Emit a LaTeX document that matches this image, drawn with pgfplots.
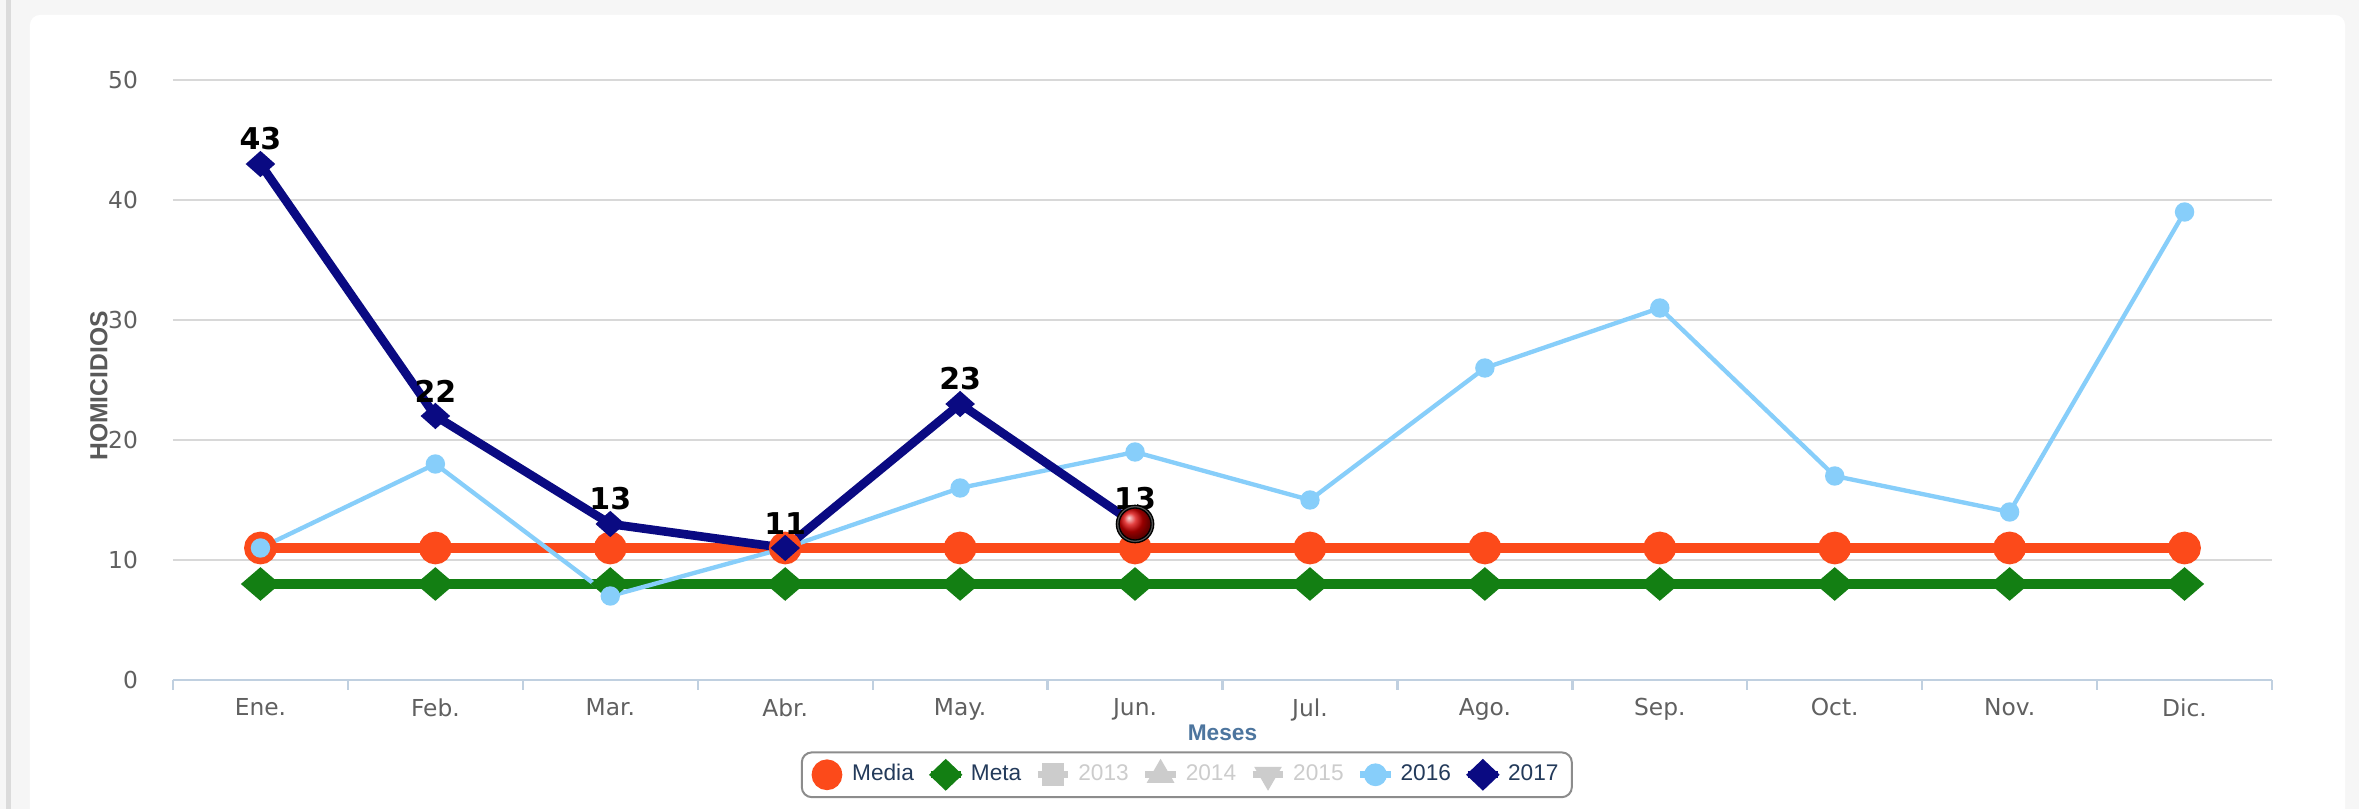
\documentclass[border=0pt]{standalone}
\usepackage{fontspec}
\setmainfont{DejaVu Sans}
\newfontfamily\arialf{Liberation Sans}
\usepackage{pgfplots}
\pgfplotsset{compat=1.18}

\definecolor{media}{HTML}{FC4A1A}
\definecolor{meta}{HTML}{137F13}
\definecolor{c2016}{HTML}{87CEFA}
\definecolor{c2017}{HTML}{0A0A82}
\definecolor{gridc}{HTML}{D8D8D8}
\definecolor{axisc}{HTML}{C0D0E0}
\definecolor{tickc}{HTML}{606060}
\definecolor{legc}{HTML}{233A5A}
\definecolor{mesc}{HTML}{4D759E}
\definecolor{hidc}{HTML}{CCCCCC}
\definecolor{bgc}{HTML}{F6F6F6}

\begin{document}
\begin{tikzpicture}
% background (1px = 0.3pt, axis box lower-left at origin)
\path[use as bounding box] (-51.9pt,-38.7pt) rectangle (655.8pt,204pt);
\fill[bgc] (-51.9pt,-38.7pt) rectangle (655.8pt,204pt);
\fill[white,rounded corners=3pt] (-42.9pt,-45pt) rectangle (651.6pt,199.5pt);
\fill[black!14] (-50.1pt,-38.7pt) rectangle (-48.6pt,204pt);

\begin{axis}[
  scale only axis, width=629.7pt, height=180pt,
  at={(0,0)}, anchor=south west,
  xmin=-0.5, xmax=11.5, ymin=0, ymax=50,
  xtick={-0.5,0.5,...,11.5},
  x tick label as interval,
  xticklabels={Ene.,Feb.,Mar.,Abr.,May.,Jun.,Jul.,Ago.,Sep.,Oct.,Nov.,Dic.},
  ytick={0,10,...,50},
  /pgf/number format/assume math mode=true,
  axis x line*=bottom, axis y line*=left,
  y axis line style={draw=none},
  x axis line style={axisc, line width=0.7pt},
  xtick style={axisc, line width=0.7pt},
  ytick style={draw=none},
  tick align=outside, major tick length=3pt,
  ymajorgrids, grid style={gridc, line width=0.6pt},
  tick label style={font=\fontsize{7}{8}\selectfont, text=tickc},
  yticklabel style={anchor=east, xshift=-4pt},
  xticklabel style={yshift=1pt},
  ylabel={HOMICIDIOS},
  ylabel style={at={(axis description cs:-0.0353,0.49)}, anchor=center,
    font=\arialf\bfseries\fontsize{7.4}{8}\selectfont, text=black!65},
  xlabel={Meses},
  xlabel style={at={(axis description cs:0.5,-0.088)}, anchor=center,
    font=\arialf\bfseries\fontsize{6.8}{8}\selectfont, text=mesc},
  legend style={at={(axis description cs:0.483,-0.158)}, anchor=center,
    legend columns=7, draw=black!45, line width=0.6pt, rounded corners=3pt,
    font=\arialf\fontsize{6.8}{8}\selectfont, text=legc,
    inner xsep=2pt, inner ysep=1.5pt,
    /tikz/every even column/.append style={column sep=2pt}},
  legend image code/.code={\draw[mark repeat=2,mark phase=2]
    plot coordinates {(0cm,0cm) (0.16cm,0cm) (0.32cm,0cm)};},
  clip=false,
]
% Media
\addplot[media, line width=3pt, mark=*, mark size=3.4pt, forget plot]
  coordinates {(0,11) (1,11) (2,11) (3,11) (4,11) (5,11) (6,11) (7,11) (8,11) (9,11) (10,11) (11,11)};
% Meta
\addplot[meta, line width=2.8pt, mark=diamond*, mark size=3.2pt, mark options={xscale=1.55}, forget plot]
  coordinates {(0,8) (1,8) (2,8) (3,8) (4,8) (5,8) (6,8) (7,8) (8,8) (9,8) (10,8) (11,8)};
% 2016
\addplot[c2016, line width=1.3pt, mark=*, mark size=2.25pt, forget plot]
  coordinates {(0,11) (1,18) (2,7) (3,11) (4,16) (5,19) (6,15) (7,26) (8,31) (9,17) (10,14) (11,39)};
% 2017
\addplot[c2017, line width=2.6pt, mark=diamond*, mark size=2.2pt, mark options={xscale=1.5}, forget plot,
  nodes near coords, every node near coord/.append style={font=\bfseries\fontsize{9}{10}\selectfont,
    text=black, anchor=south, yshift=-0.5pt}]
  coordinates {(0,43) (1,22) (2,13) (3,11) (4,23) (5,13)};
% highlighted point
\addplot[only marks, mark=*, mark size=5.6pt, mark options={fill=black!65, draw=none}, forget plot]
  coordinates {(5,13)};
\addplot[only marks, mark=ball, ball color=red!85!black, mark size=4.8pt, forget plot]
  coordinates {(5,13)};

\addlegendimage{media, line width=2pt, mark=*, mark size=3.6pt}
\addlegendentry{Media}
\addlegendimage{meta, line width=2pt, mark=diamond*, mark size=3.4pt, mark options={xscale=1.4}}
\addlegendentry{Meta}
\addlegendimage{hidc, line width=2pt, mark=square*, mark size=2.4pt}
\addlegendentry{\textcolor{hidc}{2013}}
\addlegendimage{hidc, line width=2pt, mark=triangle*, mark size=2.8pt}
\addlegendentry{\textcolor{hidc}{2014}}
\addlegendimage{hidc, line width=2pt, mark=triangle*, mark size=2.8pt, mark options={rotate=180}}
\addlegendentry{\textcolor{hidc}{2015}}
\addlegendimage{c2016, line width=2pt, mark=*, mark size=2.4pt}
\addlegendentry{2016}
\addlegendimage{c2017, line width=2pt, mark=diamond*, mark size=3.4pt, mark options={xscale=1.4}}
\addlegendentry{2017}
\end{axis}
\end{tikzpicture}
\end{document}
